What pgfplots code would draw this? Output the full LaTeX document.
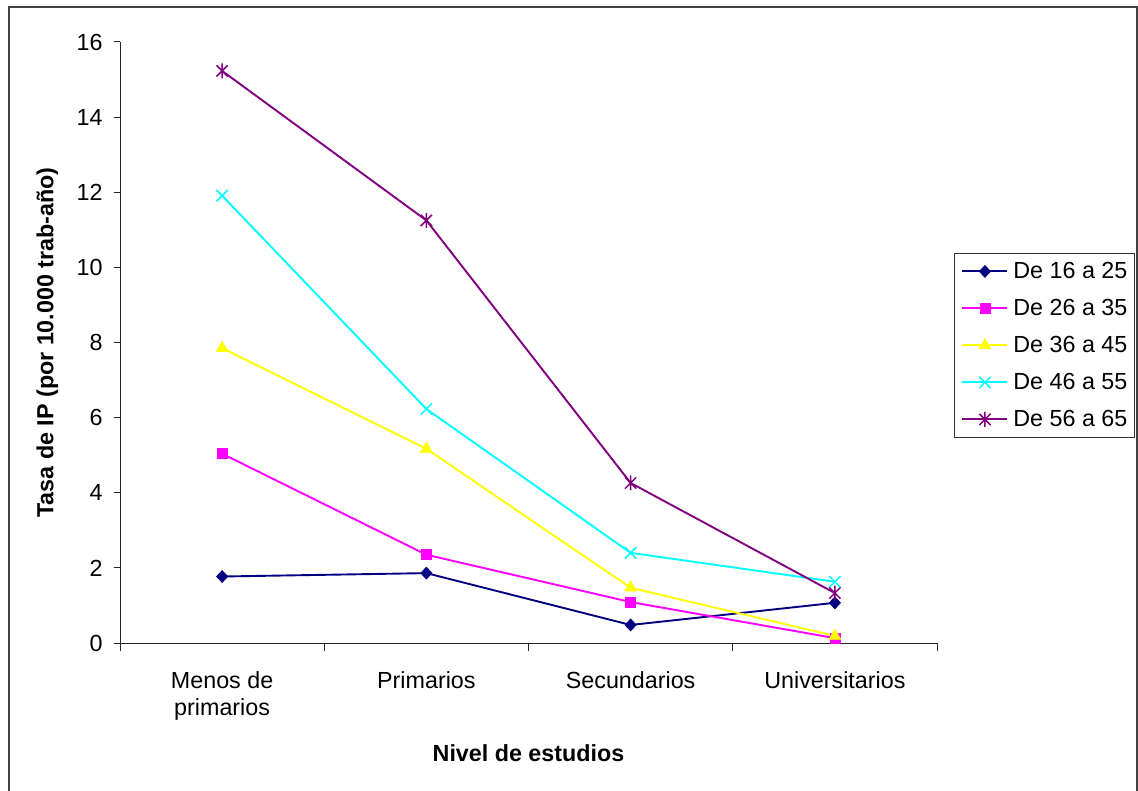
\documentclass[border=0pt]{standalone}
\usepackage{pgfplots}
\pgfplotsset{compat=1.18}
\usepackage{fontspec}
\setmainfont{Liberation Sans}

\definecolor{serNavy}{RGB}{0,0,128}
\definecolor{serMagenta}{RGB}{255,0,255}
\definecolor{serYellow}{RGB}{255,255,0}
\definecolor{serCyan}{RGB}{0,255,255}
\definecolor{serPurple}{RGB}{128,0,128}

% star marker: a cross with a vertical stroke through it
\pgfdeclareplotmark{xstar}{%
  \pgfpathmoveto{\pgfqpoint{-.75\pgfplotmarksize}{-.75\pgfplotmarksize}}%
  \pgfpathlineto{\pgfqpoint{.75\pgfplotmarksize}{.75\pgfplotmarksize}}%
  \pgfpathmoveto{\pgfqpoint{-.75\pgfplotmarksize}{.75\pgfplotmarksize}}%
  \pgfpathlineto{\pgfqpoint{.75\pgfplotmarksize}{-.75\pgfplotmarksize}}%
  \pgfpathmoveto{\pgfqpoint{0pt}{-\pgfplotmarksize}}%
  \pgfpathlineto{\pgfqpoint{0pt}{\pgfplotmarksize}}%
  \pgfusepathqstroke}

\newcommand{\chartfont}{\fontsize{23.3}{27.5}\selectfont}

\begin{document}
\begin{tikzpicture}
\path[use as bounding box] (0pt,0pt) rectangle (1138pt,790pt);
% chart area frame (open at the bottom edge of the page)
\draw[black!75, line width=1.6pt] (9pt,-5pt) -- (9pt,783pt) -- (1137pt,783pt) -- (1137pt,-5pt);

\begin{axis}[
  at={(120pt,147pt)}, anchor=south west,
  scale only axis, width=817pt, height=601pt,
  xmin=0.5, xmax=4.5, ymin=0, ymax=16,
  axis lines=left,
  axis line style={-, black!85, line width=1pt},
  clip=false,
  xtick={1,2,3,4},
  xticklabels={{Menos de\\primarios},Primarios,Secundarios,Universitarios},
  minor xtick={0.5,1.5,2.5,3.5,4.5},
  ytick={0,2,...,16},
  tick align=outside,
  major tick length=6pt, minor tick length=8pt,
  tick style={black!85, line width=1pt},
  major x tick style={draw=none},
  /pgf/number format/assume math mode=true,
  every tick label/.append style={font=\chartfont},
  xticklabel style={align=center, anchor=north, yshift=-19pt},
  yticklabel style={anchor=east, xshift=-8pt},
  xlabel={\textbf{Nivel de estudios}},
  xlabel style={font=\chartfont, at={(axis description cs:0.5,-0.183)}, anchor=center},
  ylabel={\textbf{Tasa de IP (por 10.000 trab-año)}},
  ylabel style={font=\chartfont, at={(axis description cs:-0.089,0.5)}, anchor=center, rotate=0},
  every axis plot/.append style={line width=1.9pt},
  legend style={at={(axis description cs:1.0208,0.649)}, anchor=north west,
    draw=black!80, line width=1pt, fill=white,
    inner xsep=7pt, inner ysep=10.5pt, row sep=22pt, column sep=5pt,
    font=\chartfont,
    nodes={inner sep=0pt, text height=15pt, text depth=0pt}},
  legend cell align=left,
  legend image code/.code={%
    \draw[mark repeat=2, mark phase=2] plot coordinates {(0pt,0pt) (22.5pt,0pt) (45pt,0pt)};},
]

\addplot[color=serNavy, mark=diamond*, mark size=6pt, mark options={solid, xscale=1.25, line width=0.6pt}]
  coordinates {(1,1.77) (2,1.86) (3,0.48) (4,1.07)};
\addlegendentry{De 16 a 25}

\addplot[color=serMagenta, mark=square*, mark size=5pt, mark options={solid, line width=0.6pt}]
  coordinates {(1,5.04) (2,2.35) (3,1.09) (4,0.13)};
\addlegendentry{De 26 a 35}

\addplot[color=serYellow, mark=triangle*, mark size=6.8pt, mark options={solid, line width=0.6pt}]
  coordinates {(1,7.85) (2,5.17) (3,1.47) (4,0.19)};
\addlegendentry{De 36 a 45}

\addplot[color=serCyan, mark=x, mark size=8pt, mark options={solid, line width=1.5pt}]
  coordinates {(1,11.91) (2,6.23) (3,2.40) (4,1.63)};
\addlegendentry{De 46 a 55}

\addplot[color=serPurple, mark=xstar, mark size=7.5pt, mark options={solid, line width=1.5pt}]
  coordinates {(1,15.23) (2,11.25) (3,4.26) (4,1.33)};
\addlegendentry{De 56 a 65}

\end{axis}
\end{tikzpicture}
\end{document}
